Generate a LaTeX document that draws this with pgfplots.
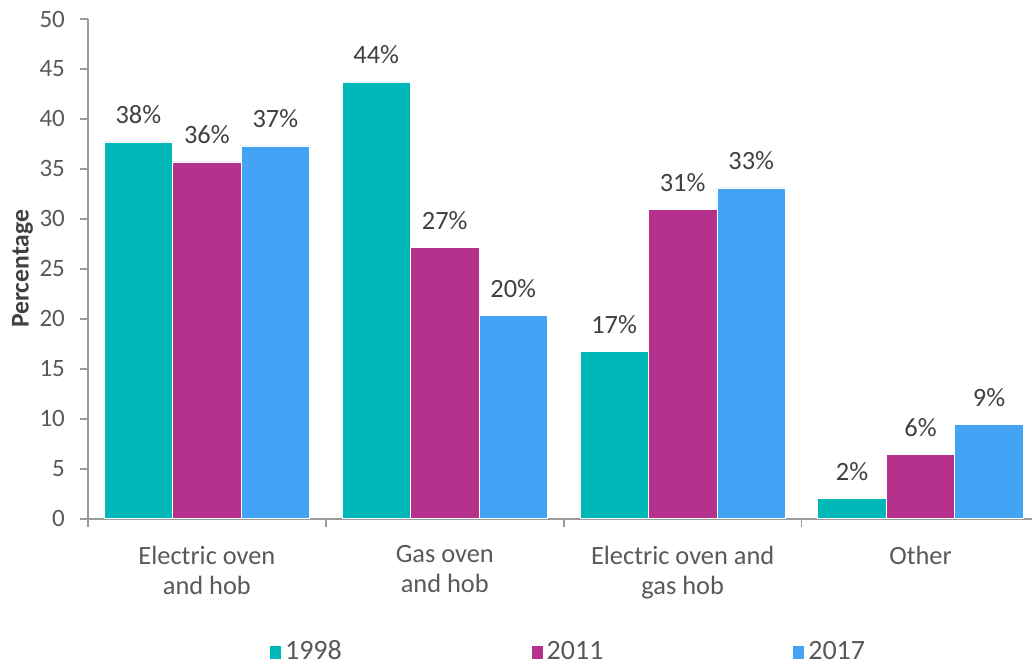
\documentclass[border=0pt]{standalone}
\usepackage{pgfplots}
\pgfplotsset{compat=1.18}
\usepackage{fontspec}
\setmainfont{Carlito}
\definecolor{cTeal}{HTML}{00B8B8}
\definecolor{cMag}{HTML}{B5318C}
\definecolor{cBlue}{HTML}{43A4F5}
\definecolor{axgray}{HTML}{9A9A9A}
\definecolor{txt}{HTML}{595959}
\definecolor{lbl}{HTML}{404040}

\begin{document}
\begin{tikzpicture}
% page size: the plot area runs a little past the right edge, as in the reference
\useasboundingbox (-44pt,-74pt) rectangle (472.25pt,259.5pt);
\begin{axis}[
  scale only axis, width=476pt, height=250pt,
  ybar=0pt, bar width=0.288,
  xmin=-0.5, xmax=3.5, ymin=0, ymax=50,
  xtick={0,1,2,3},
  xticklabels={Electric oven\\and hob, Gas oven\\and hob, Electric oven and\\gas hob, Other},
  minor xtick={-0.5,0.5,1.5,2.5,3.5},
  ytick={0,5,...,50},
  axis x line*=bottom, axis y line*=left,
  axis line style={axgray, line width=0.8pt},
  major x tick style={draw=none},
  minor x tick style={axgray, line width=0.8pt},
  ytick style={axgray, line width=0.8pt},
  tick align=outside, major tick length=4pt, minor tick length=4pt,
  /pgf/number format/assume math mode=true,
  yticklabel style={font=\fontsize{12.5}{15}\selectfont, text=txt, xshift=-4pt},
  xticklabel style={font=\fontsize{13.2}{15}\selectfont, text=txt, align=center, yshift=-6pt},
  ylabel={\textbf{Percentage}},
  ylabel style={font=\fontsize{12.8}{15}\selectfont, text=lbl, yshift=-3.5pt},
  nodes near coords={\pgfmathprintnumber[fixed,precision=0]{\pgfplotspointmeta}\%},
  every node near coord/.append style={font=\fontsize{13.2}{15}\selectfont, text=lbl, yshift=5.5pt},
  legend style={at={(0.191,-0.266)}, anchor=west, draw=none, inner sep=0pt,
    font=\fontsize{14}{16}\selectfont, text=txt,
    /tikz/every even column/.append style={column sep=93pt}},
  legend columns=3,
  legend image code/.code={\fill[#1,draw=none] (0pt,-3.5pt) rectangle (5.5pt,3pt);},
  every axis plot/.append style={draw=white, line width=0.4pt},
]
\addplot[fill=cTeal, bar shift=-0.288] coordinates {(0,37.7) (1,43.7) (2,16.7) (3,2.0)};
\addplot[fill=cMag, bar shift=0] coordinates {(0,35.7) (1,27.1) (2,30.9) (3,6.4)};
\addplot[fill=cBlue, bar shift=0.288] coordinates {(0,37.3) (1,20.3) (2,33.1) (3,9.4)};
\legend{1998,2011,2017}
\end{axis}
\end{tikzpicture}
\end{document}
